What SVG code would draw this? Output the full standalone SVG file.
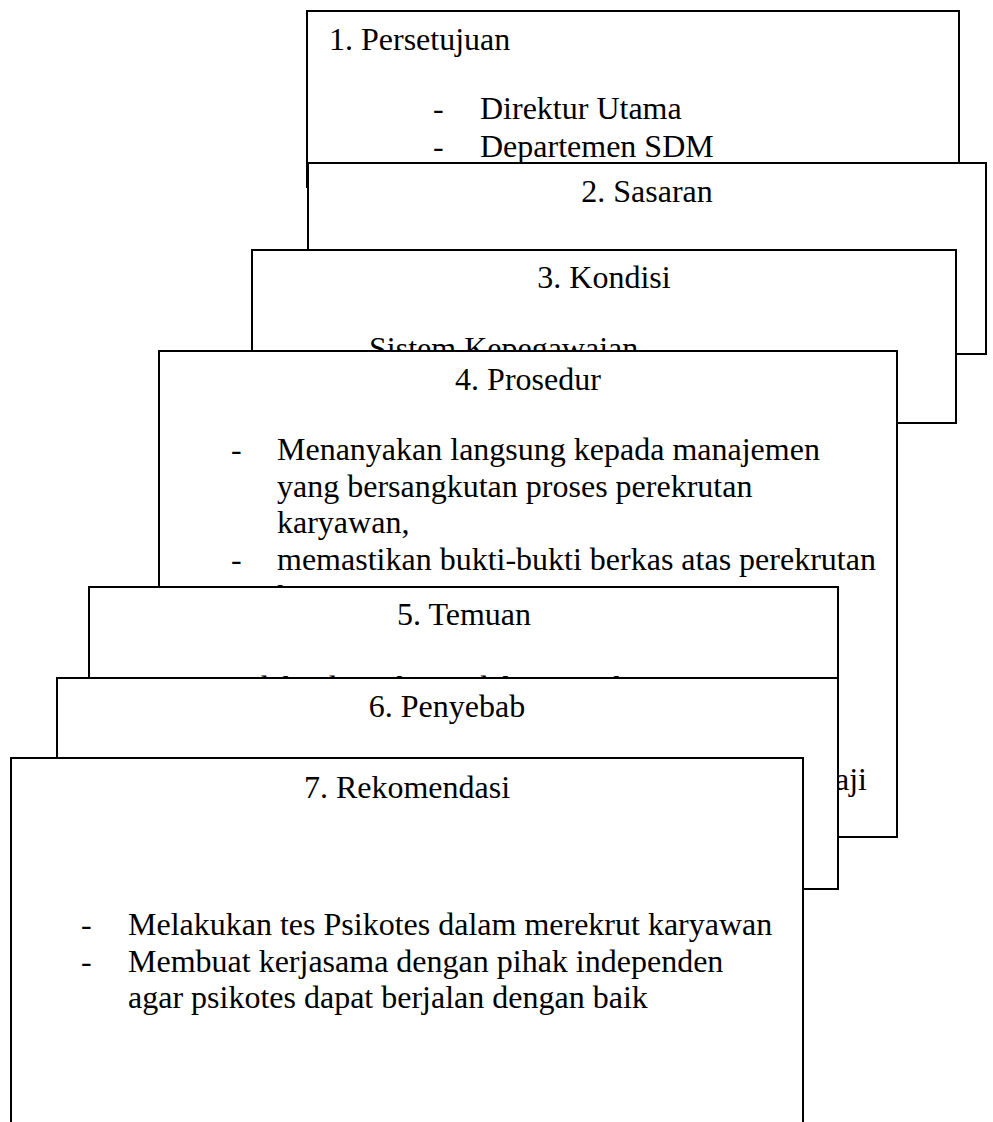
<svg xmlns="http://www.w3.org/2000/svg" width="993" height="1122" viewBox="0 0 993 1122">
<style>
.box{fill:#fff;stroke:#000;stroke-width:2}
text{font-family:"Liberation Serif","Times New Roman",serif;font-size:32px;fill:#000}
.c{text-anchor:middle}
</style>
<rect width="993" height="1122" fill="#fff"/>
<g id="connectors"></g>
<g id="node1">
<rect class="box" x="307" y="11" width="652" height="176"/>
<text x="329" y="50">1. Persetujuan</text>
<text x="433" y="119">-</text><text x="480" y="119">Direktur Utama</text>
<text x="433" y="157">-</text><text x="480" y="157">Departemen SDM</text>
</g>
<g id="node2">
<rect class="box" x="308" y="163" width="678" height="191"/>
<text class="c" x="647" y="202">2. Sasaran</text>
</g>
<g id="node3">
<rect class="box" x="252" y="250" width="704" height="173"/>
<text class="c" x="604" y="288">3. Kondisi</text>
<text x="369" y="359">Sistem Kepegawaian</text>
</g>
<g id="node4">
<rect class="box" x="159" y="351" width="738" height="486"/>
<text class="c" x="528" y="390">4. Prosedur</text>
<text x="231" y="460">-</text><text x="277" y="460">Menanyakan langsung kepada manajemen</text>
<text x="277" y="497">yang bersangkutan proses perekrutan</text>
<text x="277" y="533">karyawan,</text>
<text x="231" y="570">-</text><text x="277" y="570">memastikan bukti-bukti berkas atas perekrutan</text>
<text x="277" y="607">karyawan</text>
<text x="867" y="790" text-anchor="end">aji</text>
</g>
<g id="node5">
<rect class="box" x="89" y="587" width="749" height="290"/>
<text class="c" x="464" y="625">5. Temuan</text>
<text class="c" x="460" y="698">Tidak ada psikotes dalam perekrutan</text>
</g>
<g id="node6">
<rect class="box" x="57" y="678" width="781" height="211"/>
<text class="c" x="447" y="717">6. Penyebab</text>
</g>
<g id="node7">
<rect class="box" x="11" y="758" width="792" height="400"/>
<text class="c" x="407" y="798">7. Rekomendasi</text>
<text x="81" y="935">-</text><text x="128" y="935">Melakukan tes Psikotes dalam merekrut karyawan</text>
<text x="81" y="972">-</text><text x="128" y="972">Membuat kerjasama dengan pihak independen</text>
<text x="128" y="1008">agar psikotes dapat berjalan dengan baik</text>
</g>
</svg>
